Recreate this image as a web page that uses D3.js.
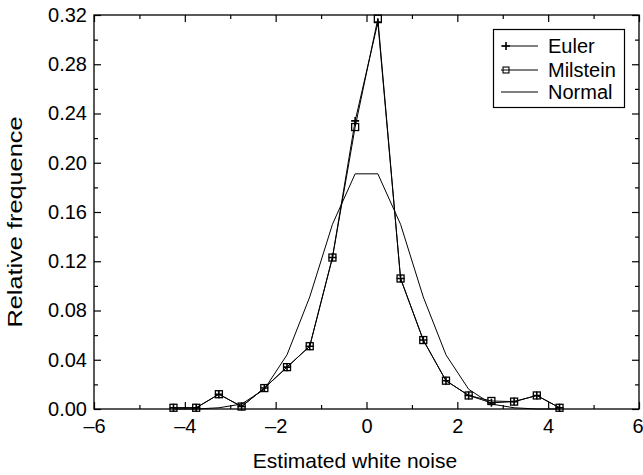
<!DOCTYPE html>
<html>
<head>
<meta charset="utf-8">
<script src="https://cdn.jsdelivr.net/npm/d3@7"></script>
<style>
  body { margin: 0; background: #fff; }
  svg text { font-family: "Liberation Sans", Arial, Helvetica, sans-serif; fill: #000; }
</style>
</head>
<body>
<svg id="chart" width="643" height="475"></svg>
<script>
// bin centres of the estimated white noise histogram
var noiseBins = [-4.25, -3.75, -3.25, -2.75, -2.25, -1.75, -1.25, -0.75, -0.25,
                 0.25, 0.75, 1.25, 1.75, 2.25, 2.75, 3.25, 3.75, 4.25];
var eulerFreq = [0.001, 0.001, 0.012, 0.002, 0.017, 0.034, 0.051, 0.123, 0.234,
                 0.314, 0.106, 0.056, 0.023, 0.011, 0.005, 0.006, 0.011, 0.001];
var milsteinFreq = [0.001, 0.001, 0.012, 0.002, 0.017, 0.034, 0.051, 0.123, 0.229,
                    0.317, 0.106, 0.056, 0.023, 0.011, 0.0065, 0.006, 0.011, 0.001];
var normalFreq = [0, 0, 0.001, 0.004, 0.016, 0.044, 0.091, 0.150, 0.191,
                  0.191, 0.150, 0.091, 0.044, 0.016, 0.004, 0.001, 0, 0];

var xTicks = [-6, -4, -2, 0, 2, 4, 6];
var xMinorTicks = [-5, -3, -1, 1, 3, 5];
var yTicks = [0, 0.04, 0.08, 0.12, 0.16, 0.20, 0.24, 0.28, 0.32];
var yMinorTicks = [0.02, 0.06, 0.10, 0.14, 0.18, 0.22, 0.26, 0.30];

var legendNames = ["Euler", "Milstein", "Normal"];

var margin = {left: 94, top: 15, right: 4, bottom: 66};
var width = 643 - margin.left - margin.right;
var height = 475 - margin.top - margin.bottom;

var svg = d3.select("#chart");
var g = svg.append("g")
    .attr("transform", "translate(" + margin.left + "," + margin.top + ")");

var x = d3.scaleLinear().domain([-6, 6]).range([0, width]);
var y = d3.scaleLinear().domain([0, 0.32]).range([height, 0]);

function dashNum(v) {
    return v < 0 ? "\u2013" + Math.abs(v) : String(v);
}

// axes: ticks point inward, mirrored on top and right
function addAxis(axis, tf, major, minor, labels, fmt, pad) {
    var ax = g.append("g").attr("transform", tf);
    ax.call(axis.scale(major.scale).tickValues(major.vals).tickSizeInner(-7).tickSizeOuter(0)
            .tickPadding(pad).tickFormat(labels ? fmt : ""));
    ax.select(".domain").remove();
    var mx = g.append("g").attr("transform", tf);
    mx.call(axis.scale(major.scale).tickValues(minor).tickSizeInner(-4).tickSizeOuter(0)
            .tickFormat(""));
    mx.select(".domain").remove();
    return ax;
}

var bx = addAxis(d3.axisBottom(), "translate(0," + height + ")", {scale: x, vals: xTicks}, xMinorTicks, true, dashNum, 10);
addAxis(d3.axisTop(), "translate(0,0)", {scale: x, vals: xTicks}, xMinorTicks, false, null, 0);
var ly = addAxis(d3.axisLeft(), "translate(0,0)", {scale: y, vals: yTicks}, yMinorTicks, true, d3.format(".2f"), 7);
addAxis(d3.axisRight(), "translate(" + width + ",0)", {scale: y, vals: yTicks}, yMinorTicks, false, null, 0);

g.selectAll(".tick line").attr("stroke", "#000").attr("stroke-width", 1.2);
g.selectAll(".tick text").attr("font-size", 20)
    .attr("font-family", "'Liberation Sans', Arial, sans-serif").attr("fill", "#000");
// last x label sits right on the page edge
bx.selectAll(".tick text").filter(function(d) { return d === 6; })
    .attr("text-anchor", "end").attr("x", 4);

g.append("rect")
    .attr("width", width).attr("height", height)
    .attr("fill", "none").attr("stroke", "#000").attr("stroke-width", 1.3);

// series
var line = function(vals) {
    return d3.line()
        .x(function(d, i) { return x(noiseBins[i]); })
        .y(function(d) { return y(d); })(vals);
};

g.append("path").attr("d", line(normalFreq))
    .attr("fill", "none").attr("stroke", "#000").attr("stroke-width", 1);
g.append("path").attr("d", line(milsteinFreq))
    .attr("fill", "none").attr("stroke", "#000").attr("stroke-width", 1);
g.append("path").attr("d", line(eulerFreq))
    .attr("fill", "none").attr("stroke", "#000").attr("stroke-width", 1);

function square(sel) {
    sel.append("rect")
        .attr("x", -3.5).attr("y", -3.5).attr("width", 7).attr("height", 7)
        .attr("fill", "none").attr("stroke", "#000").attr("stroke-width", 1.3);
}
function cross(sel) {
    sel.append("path")
        .attr("d", "M-4,0H4M0,-4V4")
        .attr("stroke", "#000").attr("stroke-width", 1.6);
}

g.selectAll(".msq").data(milsteinFreq).enter().append("g")
    .attr("class", "msq")
    .attr("transform", function(d, i) { return "translate(" + x(noiseBins[i]) + "," + y(d) + ")"; })
    .call(square);
g.selectAll(".ecr").data(eulerFreq).enter().append("g")
    .attr("class", "ecr")
    .attr("transform", function(d, i) { return "translate(" + x(noiseBins[i]) + "," + y(d) + ")"; })
    .call(cross);

// axis titles
svg.append("text")
    .attr("x", 355).attr("y", 468)
    .attr("text-anchor", "middle").attr("font-size", 21)
    .text("Estimated white noise");
svg.append("text")
    .attr("transform", "translate(22,222) rotate(-90)")
    .attr("text-anchor", "middle").attr("font-size", 20)
    .attr("textLength", 211).attr("lengthAdjust", "spacingAndGlyphs")
    .text("Relative frequence");

// legend
var legend = svg.append("g");
legend.append("rect")
    .attr("x", 493.5).attr("y", 29.5).attr("width", 131).attr("height", 78)
    .attr("fill", "#fff").attr("stroke", "#000").attr("stroke-width", 1.2);
var rows = legend.selectAll(".row").data(legendNames).enter().append("g")
    .attr("class", "row")
    .attr("transform", function(d, i) { return "translate(0," + [46, 70, 92][i] + ")"; });
rows.append("line")
    .attr("x1", 501).attr("x2", 538).attr("y1", 0).attr("y2", 0)
    .attr("stroke", "#000").attr("stroke-width", 1);
rows.append("text")
    .attr("x", 548).attr("y", 7).attr("font-size", 20)
    .text(function(d) { return d; });
rows.filter(function(d) { return d === "Euler"; })
    .append("g").attr("transform", "translate(506,0)").call(cross);
rows.filter(function(d) { return d === "Milstein"; })
    .append("g").attr("transform", "translate(506,0) scale(0.85)").call(square);
</script>
</body>
</html>
